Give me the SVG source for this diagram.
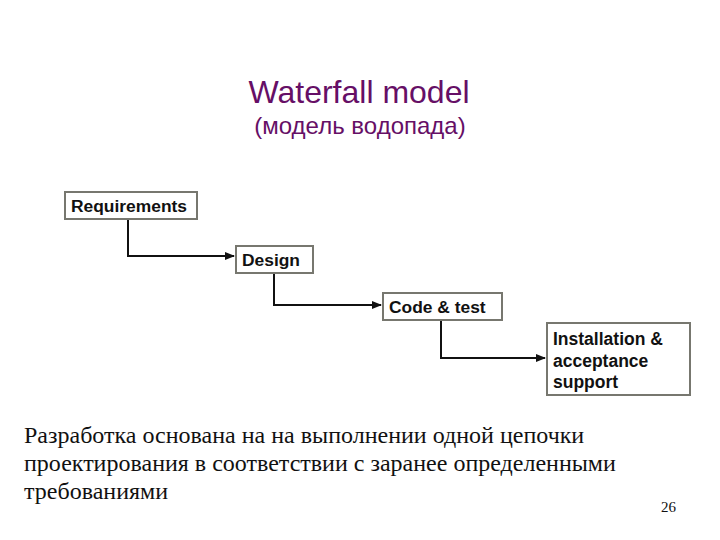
<svg xmlns="http://www.w3.org/2000/svg" width="720" height="540" viewBox="0 0 720 540">
<defs>
<style>
.box{fill:#ffffff;stroke:#77776f;stroke-width:2}
.lbl{font-family:"Liberation Sans",Arial,sans-serif;font-weight:bold;font-size:17.4px;fill:#111}
.lbl2{font-family:"Liberation Sans",Arial,sans-serif;font-weight:bold;font-size:17.5px;fill:#111}
.conn{fill:none;stroke:#111;stroke-width:2}
.title{font-family:"Liberation Sans",Arial,sans-serif;fill:#660f66;text-anchor:middle}
.body{font-size:24px;fill:#111}
</style>
<marker id="arr" markerWidth="10" markerHeight="8" refX="9" refY="4" orient="auto" markerUnits="userSpaceOnUse">
<path d="M0,0 L10,4 L0,8 Z" fill="#111"/>
</marker>
</defs>
<rect width="720" height="540" fill="#ffffff"/>
<text class="title" x="359" y="103" font-size="32">Waterfall model</text>
<text class="title" x="360" y="134" font-size="24">(модель водопада)</text>
<g id="connectors">
<path class="conn" d="M128,219 V256 H234" marker-end="url(#arr)"/>
<path class="conn" d="M274,273 V305 H381" marker-end="url(#arr)"/>
<path class="conn" d="M441,320 V358 H545" marker-end="url(#arr)"/>
</g>
<g id="requirements">
<rect class="box" x="65" y="192" width="132" height="27"/>
<text class="lbl" x="71" y="212">Requirements</text>
</g>
<g id="design">
<rect class="box" x="236" y="246" width="77" height="27"/>
<text class="lbl" x="242" y="266">Design</text>
</g>
<g id="code-test">
<rect class="box" x="383" y="293" width="119" height="27"/>
<text class="lbl" x="389" y="313">Code &amp; test</text>
</g>
<g id="installation">
<rect class="box" x="547" y="323" width="143" height="72"/>
<text class="lbl2" x="553" y="345">Installation &amp;</text>
<text class="lbl2" x="553" y="367">acceptance</text>
<text class="lbl2" x="553" y="388">support</text>
</g>
<g font-family="Liberation Serif, DejaVu Serif, serif">
<text class="body" x="24" y="443">Разработка основана на на выполнении одной цепочки</text>
<text class="body" x="24" y="471">проектирования в соответствии с заранее определенными</text>
<text class="body" x="24" y="499">требованиями</text>
<text x="661" y="512" font-size="15" fill="#111">26</text>
</g>
</svg>
